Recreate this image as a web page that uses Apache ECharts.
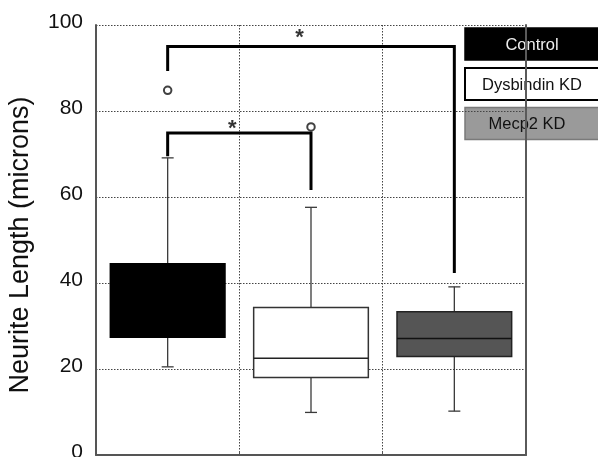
<!DOCTYPE html>
<html>
<head>
<meta charset="utf-8">
<script src="https://cdn.jsdelivr.net/npm/echarts@6/dist/echarts.min.js"></script>
<style>
html,body{margin:0;padding:0;background:#fff;}
#chart{width:598px;height:457px;}
</style>
</head>
<body>
<div id="chart"></div>
<script>
// ---- data ----
const categories = ['Control', 'Dysbindin KD', 'Mecp2 KD'];
const whiskerLow  = [20.5, 9.9, 10.2];
const q1          = [27.4, 18.0, 22.9];
const median      = [36.0, 22.5, 27.1];
const q3          = [44.5, 34.3, 33.3];
const whiskerHigh = [69.1, 57.6, 39.1];
const outlierGroup = [0, 1];
const outlierValue = [84.8, 76.3];
// significance brackets (group indices and y values)
const bracketFrom = [0, 0];
const bracketTo = [2, 1];
const bracketTop = [95.0, 74.9];
const bracketFromEnd = [89.3, 69.5];
const bracketToEnd = [42.3, 61.6];
const starX = [0.92, 0.45];
const starY = [97.7, 76.5];
const yTicks = [0, 20, 40, 60, 80, 100];

// ---- styles ----
const boxFill = ['#000000', '#ffffff', '#555555'];
const boxStroke = ['#000000', '#333333', '#222222'];
const medianStroke = ['#000000', '#222222', '#111111'];
const legendFill = ['#000000', '#ffffff', '#9a9a9a'];
const legendStroke = ['#000000', '#000000', '#7a7a7a'];
const legendText = ['#eeeeee', '#111111', '#111111'];
const legendCx = [532, 532, 527];
const legendTop = [28, 68, 107.5];
const FONT = '"Liberation Sans", Arial, Helvetica, sans-serif';

const chart = echarts.init(document.getElementById('chart'));

const boxData = categories.map((c, i) => [i + 0.5, whiskerLow[i], q1[i], median[i], q3[i], whiskerHigh[i]]);

const series = [];
series.push({
  type: 'custom',
  name: 'boxes',
  data: boxData,
  z: 3,
  renderItem: function (params, api) {
    const i = params.dataIndex;
    const x = api.value(0);
    const pLow = api.coord([x, api.value(1)]);
    const pQ1 = api.coord([x, api.value(2)]);
    const pMed = api.coord([x, api.value(3)]);
    const pQ3 = api.coord([x, api.value(4)]);
    const pHigh = api.coord([x, api.value(5)]);
    const bw = api.size([0.8, 0])[0];
    const cw = 12;
    const cx = pQ1[0];
    const wStyle = { stroke: '#3a3a3a', lineWidth: 1.3 };
    return {
      type: 'group',
      children: [
        { type: 'line', shape: { x1: cx, y1: pQ3[1], x2: cx, y2: pHigh[1] }, style: wStyle },
        { type: 'line', shape: { x1: cx, y1: pQ1[1], x2: cx, y2: pLow[1] }, style: wStyle },
        { type: 'line', shape: { x1: cx - cw / 2, y1: pHigh[1], x2: cx + cw / 2, y2: pHigh[1] }, style: wStyle },
        { type: 'line', shape: { x1: cx - cw / 2, y1: pLow[1], x2: cx + cw / 2, y2: pLow[1] }, style: wStyle },
        { type: 'rect', shape: { x: cx - bw / 2, y: pQ3[1], width: bw, height: pQ1[1] - pQ3[1] },
          style: { fill: boxFill[i], stroke: boxStroke[i], lineWidth: 1.5 } },
        { type: 'line', shape: { x1: cx - bw / 2, y1: pMed[1], x2: cx + bw / 2, y2: pMed[1] },
          style: { stroke: medianStroke[i], lineWidth: 1.5 } }
      ]
    };
  }
});

series.push({
  type: 'scatter',
  name: 'outliers',
  data: outlierGroup.map((g, i) => [g + 0.5, outlierValue[i]]),
  symbol: 'emptyCircle',
  symbolSize: 7.5,
  itemStyle: { color: '#111', borderWidth: 1.1 },
  z: 4
});

bracketFrom.forEach((f, i) => {
  series.push({
    type: 'line',
    name: 'bracket' + i,
    data: [
      [f + 0.5, bracketFromEnd[i]],
      [f + 0.5, bracketTop[i]],
      [bracketTo[i] + 0.5, bracketTop[i]],
      [bracketTo[i] + 0.5, bracketToEnd[i]]
    ],
    symbol: 'none',
    lineStyle: { color: '#000', width: 3, join: 'miter', cap: 'butt' },
    silent: true,
    animation: false,
    z: 5
  });
});

series.push({
  type: 'scatter',
  name: 'stars',
  data: starX.map((x, i) => [x + 0.5, starY[i]]),
  symbolSize: 1,
  itemStyle: { color: 'rgba(0,0,0,0)' },
  label: {
    show: true, position: 'inside', formatter: '*',
    fontFamily: FONT, fontSize: 22, fontWeight: 'bold', color: '#000',
    offset: [0, 3]
  },
  z: 6
});

const graphic = [];
categories.forEach((c, i) => {
  graphic.push({
    type: 'rect', z: -2,
    shape: { x: 465, y: legendTop[i], width: 150, height: 32 },
    style: { fill: legendFill[i], stroke: legendStroke[i], lineWidth: i === 1 ? 2 : 1.5 }
  });
  graphic.push({
    type: 'text', z: -1,
    x: legendCx[i], y: legendTop[i] + 17,
    style: { text: c, fill: legendText[i], font: '16.5px ' + FONT, textAlign: 'center', textVerticalAlign: 'middle' }
  });
});

chart.setOption({
  animation: false,
  backgroundColor: '#fff',
  grid: { left: 96, top: 25, right: 72, bottom: 2, outerBoundsMode: 'none', containLabel: false },
  xAxis: {
    type: 'value', min: 0, max: 3, interval: 1,
    axisLine: { show: true, lineStyle: { color: '#555', width: 2 } },
    axisTick: { show: true, inside: true, length: 4, lineStyle: { color: '#555' } },
    axisLabel: { show: false },
    splitLine: { show: true, lineStyle: { color: '#444', type: [1.5, 1.5], width: 1 } }
  },
  yAxis: [{
    type: 'value', min: 0, max: 100, interval: 20,
    name: 'Neurite Length (microns)',
    nameLocation: 'middle', nameGap: 62,
    nameTextStyle: { fontFamily: FONT, fontSize: 27, color: '#111', padding: [0, 10, 0, 0] },
    axisLine: { show: true, lineStyle: { color: '#555', width: 2 } },
    axisTick: { show: false },
    axisLabel: { fontFamily: FONT, fontSize: 21, color: '#111', margin: 13,
      formatter: v => yTicks.includes(v) ? '{v|' + v + '}' : '',
      rich: { v: { fontFamily: FONT, fontSize: 21, color: '#111', padding: [0, 0, 5, 0] } } },
    splitLine: { show: true, lineStyle: { color: '#444', type: [1.5, 1.5], width: 1 } }
  }, {
    type: 'value', min: 0, max: 100, interval: 20, position: 'right', zlevel: 1, show: true,
    axisLine: { show: true, onZero: false, lineStyle: { color: '#5a5a5a', width: 2 } },
    axisTick: { show: false }, axisLabel: { show: false }, splitLine: { show: false }
  }],
  graphic: graphic,
  series: series
});
</script>
</body>
</html>
